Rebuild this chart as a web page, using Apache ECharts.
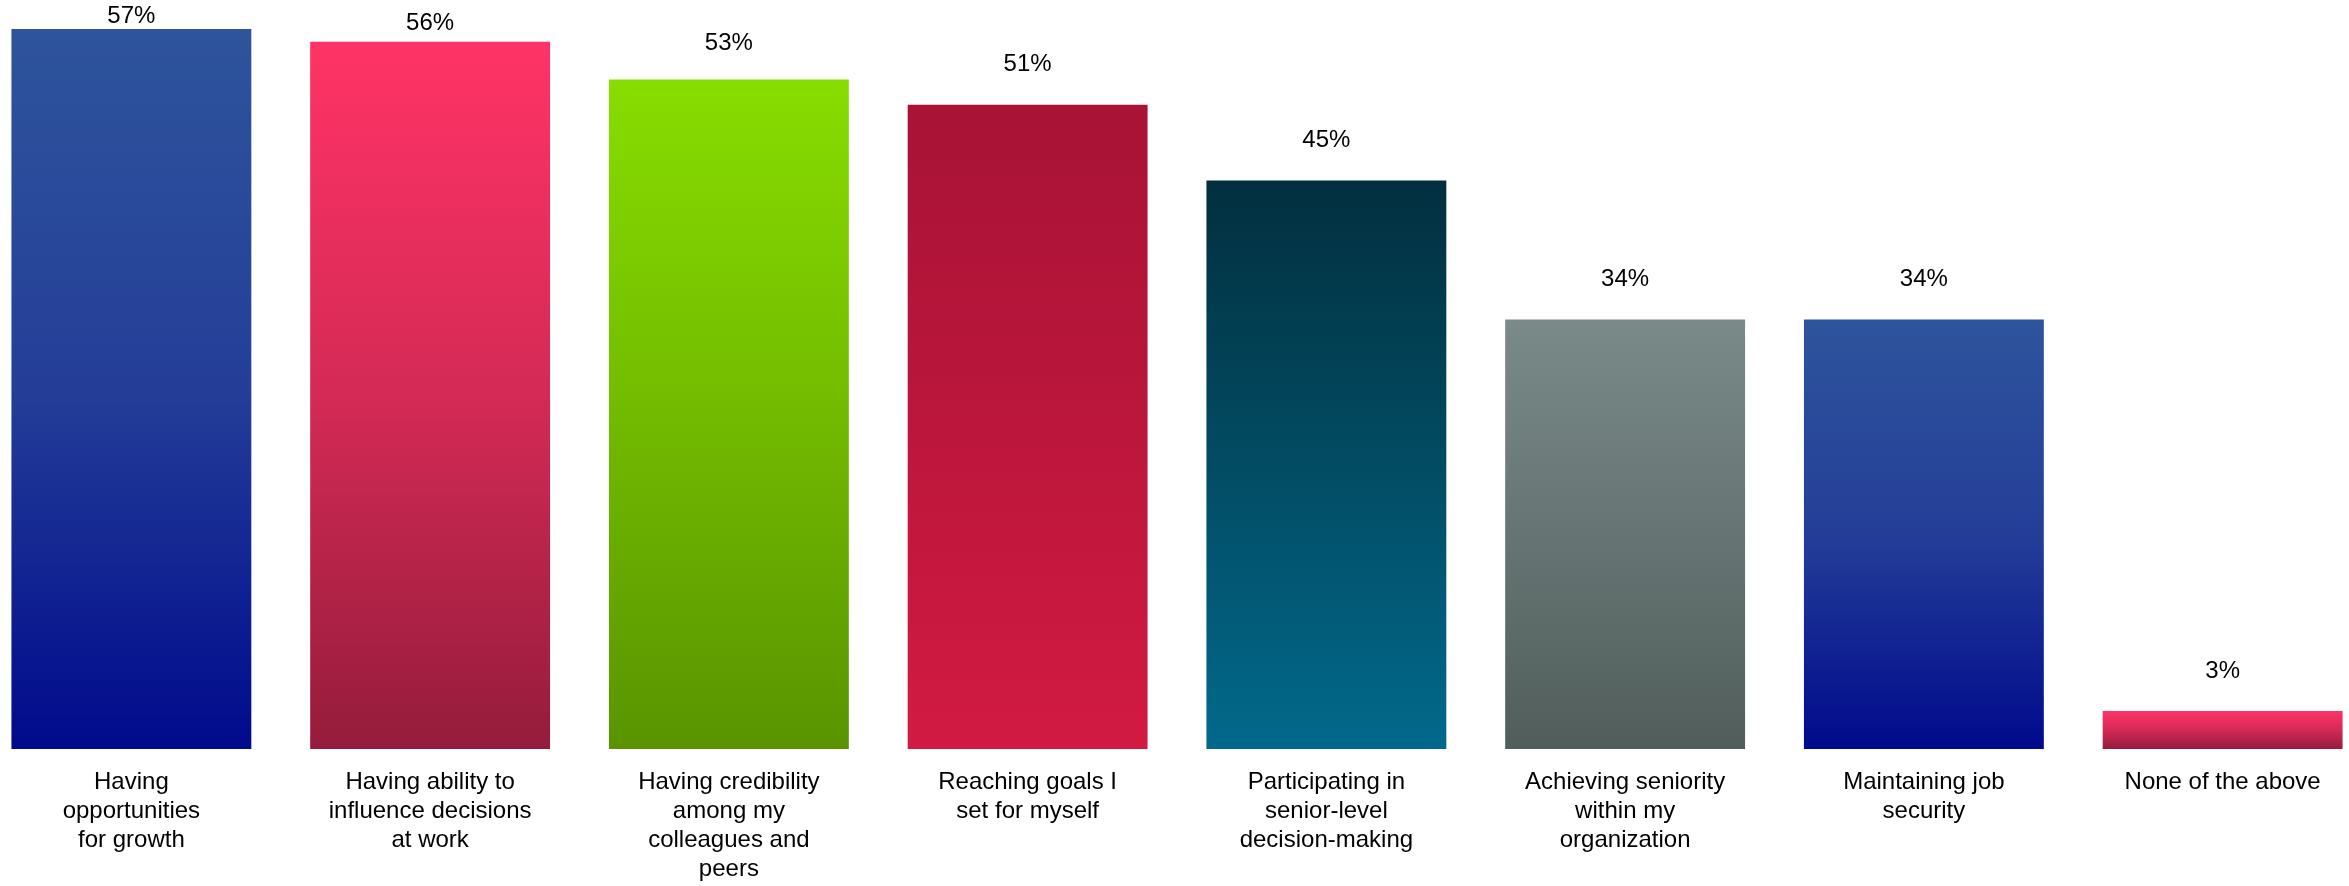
<!DOCTYPE html>
<html>
<head>
<meta charset="utf-8">
<script src="https://cdn.jsdelivr.net/npm/echarts@6/dist/echarts.min.js"></script>
<style>
html,body{margin:0;padding:0;background:#fff;}
#chart{width:2349px;height:886px;}
</style>
</head>
<body>
<div id="chart"></div>
<script>
// ---- data ----
const categories = [
  "Having\nopportunities\nfor growth",
  "Having ability to\ninfluence decisions\nat work",
  "Having credibility\namong my\ncolleagues and\npeers",
  "Reaching goals I\nset for myself",
  "Participating in\nsenior-level\ndecision-making",
  "Achieving seniority\nwithin my\norganization",
  "Maintaining job\nsecurity",
  "None of the above"
];
const values = [57, 56, 53, 51, 45, 34, 34, 3];
// gradient colours per bar: [top, middle, bottom]
const barGradients = [
  ["#2E549C", "#243E98", "#000A8C"],
  ["#FF3366", "#D42A55", "#951C3C"],
  ["#88DD00", "#72BA00", "#599400"],
  ["#A81335", "#BC163C", "#D21A42"],
  ["#022F3F", "#024C63", "#02698C"],
  ["#7A8A88", "#667573", "#505D5B"],
  ["#2E549C", "#243E98", "#000A8C"],
  ["#FF3366", "#D42A55", "#951C3C"]
];

// ---- layout ----
const W = 2349, H = 886;
const gridTop = 29, gridBottom = 137;
const yMax = Math.max.apply(null, values);
const plotH = H - gridTop - gridBottom;
const fontFamily = '"Liberation Sans", Arial, Helvetica, sans-serif';
const fontSize = 24;

const seriesData = values.map((v, i) => {
  const c = barGradients[i];
  const topPx = gridTop + (yMax - v) / yMax * plotH;
  const gap = Math.min(40, 0.45 * topPx); // label centre above bar top
  return {
    value: v,
    itemStyle: {
      color: new echarts.graphic.LinearGradient(0, 0, 0, 1, [
        { offset: 0, color: c[0] },
        { offset: 0.5, color: c[1] },
        { offset: 1, color: c[2] }
      ])
    },
    label: { distance: gap - fontSize / 2 }
  };
});

const chart = echarts.init(document.getElementById('chart'), null, { renderer: 'canvas' });
chart.setOption({
  animation: false,
  backgroundColor: '#ffffff',
  grid: {
    left: -18, right: -23, top: gridTop, bottom: gridBottom,
    containLabel: false, outerBoundsMode: 'none'
  },
  xAxis: {
    type: 'category',
    data: categories,
    axisLine: { show: false },
    axisTick: { show: false },
    splitLine: { show: false },
    axisLabel: {
      interval: 0,
      margin: 19,
      color: '#000',
      fontFamily: fontFamily,
      fontSize: fontSize,
      lineHeight: 29,
      align: 'center'
    }
  },
  yAxis: {
    type: 'value',
    min: 0,
    max: yMax,
    show: false,
    splitLine: { show: false }
  },
  series: [{
    type: 'bar',
    data: seriesData,
    barCategoryGap: '19.7%',
    label: {
      show: true,
      position: 'top',
      formatter: p => p.value + '%',
      color: '#000',
      fontFamily: fontFamily,
      fontSize: fontSize,
      lineHeight: fontSize
    }
  }]
});
</script>
</body>
</html>
